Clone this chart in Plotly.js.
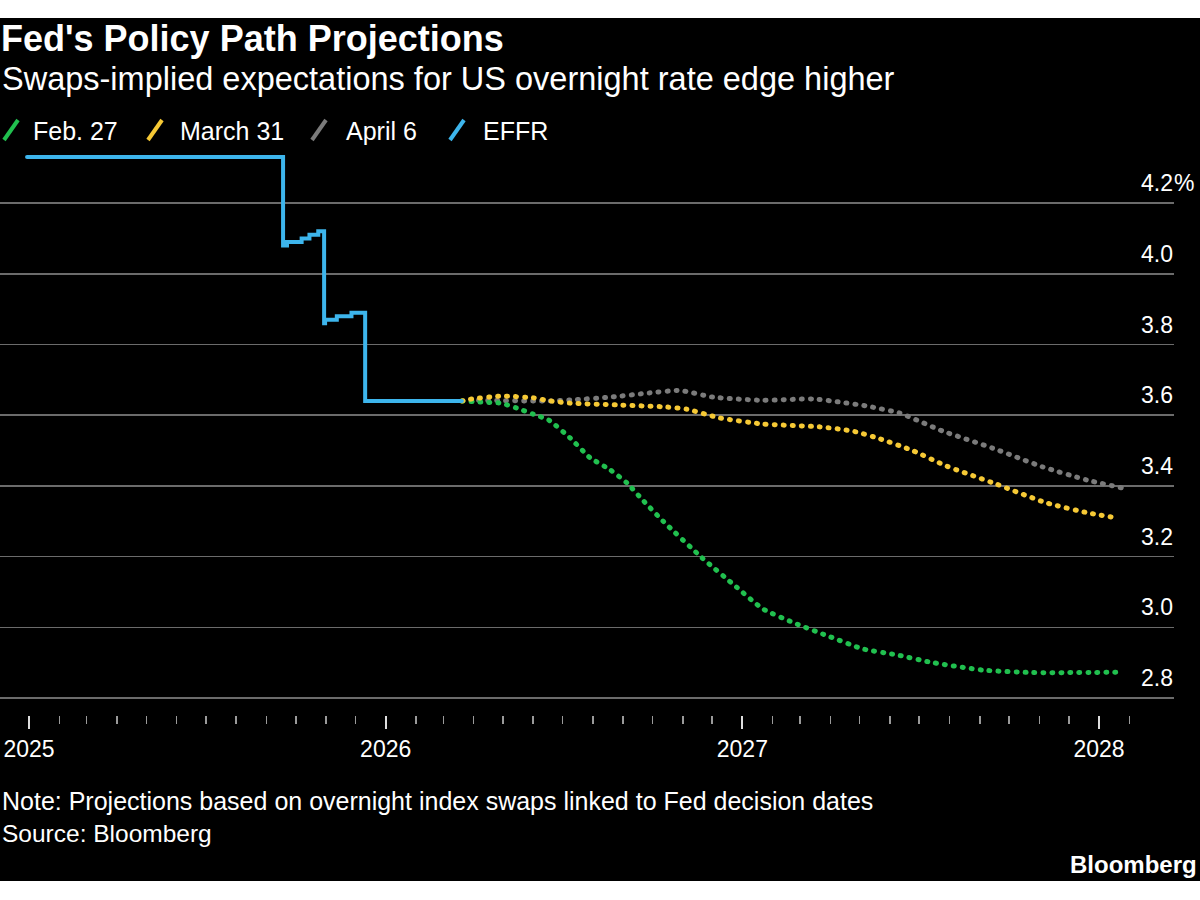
<!DOCTYPE html>
<html>
<head>
<meta charset="utf-8">
<script src="https://cdn.plot.ly/plotly-3.0.1.min.js"></script>
<style>
  html, body { margin: 0; padding: 0; background: #ffffff; }
  #chart { position: absolute; left: 0; top: 18px; width: 1200px; height: 863px; }
  #chart .scatterlayer path.js-line { stroke-linecap: round; }
</style>
</head>
<body>
<div id="chart"></div>
<script>
// ---- Data ----
const effrDates = ['2024-12-30','2025-09-18','2025-09-22','2025-10-07','2025-10-15','2025-10-24','2025-10-30','2025-10-31','2025-11-12','2025-11-27','2025-12-11','2026-03-20'];
const effrValues = [4.33, 4.08, 4.09, 4.10, 4.11, 4.12, 3.86, 3.87, 3.88, 3.89, 3.64, 3.64];

const feb27Dates = ['2026-03-20','2026-04-08','2026-04-29','2026-05-15','2026-06-01','2026-06-17','2026-07-09','2026-07-29','2026-08-19','2026-09-05','2026-09-21','2026-10-12','2026-11-21','2026-12-26','2027-01-22','2027-02-26','2027-04-01','2027-05-04','2027-06-08','2027-07-15','2027-09-04','2027-10-25','2028-01-25'];
const feb27Values = [3.640, 3.637, 3.634, 3.620, 3.603, 3.586, 3.535, 3.480, 3.445, 3.408, 3.360, 3.300, 3.196, 3.114, 3.052, 3.009, 2.973, 2.939, 2.922, 2.900, 2.879, 2.872, 2.873];

const mar31Dates = ['2026-03-20','2026-03-28','2026-04-29','2026-06-01','2026-06-17','2026-07-09','2026-08-26','2026-10-16','2026-11-05','2026-12-09','2027-01-22','2027-03-21','2027-04-24','2027-05-22','2027-06-25','2027-07-29','2027-09-18','2027-11-08','2027-12-22','2028-01-20'];
const mar31Values = [3.640, 3.645, 3.654, 3.649, 3.641, 3.634, 3.629, 3.623, 3.617, 3.592, 3.575, 3.567, 3.555, 3.533, 3.499, 3.456, 3.405, 3.352, 3.323, 3.309];

const apr6Dates = ['2026-04-06','2026-06-17','2026-07-09','2026-08-19','2026-09-28','2026-10-29','2026-12-02','2027-01-22','2027-03-14','2027-04-11','2027-05-08','2027-06-11','2027-07-02','2027-07-25','2027-09-14','2027-11-04','2027-12-19','2028-01-25'];
const apr6Values = [3.642, 3.640, 3.643, 3.651, 3.663, 3.670, 3.651, 3.642, 3.646, 3.637, 3.626, 3.606, 3.582, 3.555, 3.507, 3.454, 3.417, 3.394];

const seriesNames = ['Feb. 27', 'March 31', 'April 6', 'EFFR'];
const yTickVals = [2.8, 3.0, 3.2, 3.4, 3.6, 3.8, 4.0, 4.2];
const yTickText = ['2.8', '3.0', '3.2', '3.4', '3.6', '3.8', '4.0', '4.2'];
const xTickVals = ['2025-01-01', '2026-01-01', '2027-01-01', '2028-01-01'];
const xTickText = ['2025', '2026', '2027', '2028'];

// ---- Styling ----
const COLORS = { green: '#21c04f', yellow: '#f6c935', gray: '#7b7b7b', blue: '#3db5ec' };
const FONT = 'Liberation Sans, Arial, sans-serif';
const DOT = '1px,8px';

// Geometry helpers (div starts 18px below the page top)
const M = { l: 0, r: 26, t: 132, b: 166 };
const W = 1200, H = 863;
const PW = W - M.l - M.r, PH = H - M.t - M.b;
const px2x = px => (px - M.l) / PW;
const py2y = absY => (M.t + PH - (absY - 18)) / PH;

const traces = [
  { x: apr6Dates, y: apr6Values, name: seriesNames[2], mode: 'lines',
    line: { color: COLORS.gray, width: 5, dash: DOT, shape: 'spline', smoothing: 0.5 } },
  { x: feb27Dates, y: feb27Values, name: seriesNames[0], mode: 'lines',
    line: { color: COLORS.green, width: 5, dash: DOT, shape: 'spline', smoothing: 0.5 } },
  { x: mar31Dates, y: mar31Values, name: seriesNames[1], mode: 'lines',
    line: { color: COLORS.yellow, width: 5, dash: DOT, shape: 'spline', smoothing: 0.5 } },
  { x: effrDates, y: effrValues, name: seriesNames[3], mode: 'lines',
    line: { color: COLORS.blue, width: 4, shape: 'hv' } }
];

// custom legend (slash icons + labels)
const legendItems = [
  { name: seriesNames[0], color: COLORS.green, icon: 4, text: 31 },
  { name: seriesNames[1], color: COLORS.yellow, icon: 148, text: 178 },
  { name: seriesNames[2], color: COLORS.gray, icon: 312, text: 344 },
  { name: seriesNames[3], color: COLORS.blue, icon: 450, text: 481 }
];

const shapes = legendItems.map(it => ({
  type: 'line', xref: 'paper', yref: 'paper',
  x0: px2x(it.icon), y0: py2y(140), x1: px2x(it.icon + 14), y1: py2y(120),
  line: { color: it.color, width: 4 }
}));

const annotations = [
  { text: 'Swaps-implied expectations for US overnight rate edge higher',
    xref: 'paper', yref: 'paper', x: px2x(0), y: py2y(79), xanchor: 'left', yanchor: 'middle',
    showarrow: false, font: { family: FONT, size: 32.5, color: '#ffffff' } },
  ...legendItems.map(it => ({
    text: it.name, xref: 'paper', yref: 'paper', x: px2x(it.text), y: py2y(131),
    xanchor: 'left', yanchor: 'middle', showarrow: false,
    font: { family: FONT, size: 25, color: '#ffffff' }
  })),
  { text: '%', xref: 'paper', yref: 'y', x: 1, y: yTickVals[yTickVals.length - 1],
    xanchor: 'left', yanchor: 'middle', yshift: 20, xshift: -2, showarrow: false,
    font: { family: FONT, size: 23, color: '#ffffff' } },
  { text: 'Note: Projections based on overnight index swaps linked to Fed decision dates',
    xref: 'paper', yref: 'paper', x: px2x(0), y: py2y(801), xanchor: 'left', yanchor: 'middle',
    showarrow: false, font: { family: FONT, size: 25, color: '#ffffff' } },
  { text: 'Source: Bloomberg',
    xref: 'paper', yref: 'paper', x: px2x(0), y: py2y(833), xanchor: 'left', yanchor: 'middle',
    showarrow: false, font: { family: FONT, size: 24.5, color: '#ffffff' } },
  { text: '<b>Bloomberg</b>',
    xref: 'paper', yref: 'paper', x: px2x(1199), y: py2y(864), xanchor: 'right', yanchor: 'middle',
    showarrow: false, font: { family: FONT, size: 24, color: '#ffffff' } }
];

const layout = {
  width: W, height: H,
  paper_bgcolor: '#000000', plot_bgcolor: '#000000',
  margin: M,
  showlegend: false,
  font: { family: FONT, color: '#ffffff' },
  title: {
    text: "<b>Fed's Policy Path Projections</b>",
    font: { family: FONT, size: 36, color: '#ffffff' },
    xref: 'container', yref: 'container', x: 1 / W, xanchor: 'left',
    y: 1 - (38 - 18) / H, yanchor: 'middle', pad: { t: 0, b: 0, l: 0, r: 0 }
  },
  xaxis: {
    type: 'date',
    range: ['2024-12-02 08:00', '2028-03-17 17:00'],
    tickmode: 'array', tickvals: xTickVals, ticktext: xTickText,
    ticks: 'outside', ticklen: 13, tickwidth: 2, tickcolor: '#dddddd',
    tickfont: { family: FONT, size: 23, color: '#ffffff' },
    showgrid: false, zeroline: false, showline: false,
    minor: { dtick: 'M1', tick0: '2025-01-01', ticks: 'outside', ticklen: 8, tickwidth: 1.5, tickcolor: '#9a9a9a', showgrid: false },
    fixedrange: true
  },
  yaxis: {
    range: [2.752, 4.35],
    side: 'right',
    tickmode: 'array', tickvals: yTickVals, ticktext: yTickText,
    ticklabelposition: 'inside', ticklabelshift: -20, ticklabelstandoff: -2,
    ticks: '', showline: false, zeroline: false,
    showgrid: true, gridcolor: '#6b6b6b', gridwidth: 1.5,
    tickfont: { family: FONT, size: 23, color: '#ffffff' },
    fixedrange: true
  },
  shapes: shapes,
  annotations: annotations
};

Plotly.newPlot('chart', traces, layout, { displayModeBar: false, staticPlot: true });
</script>
</body>
</html>
